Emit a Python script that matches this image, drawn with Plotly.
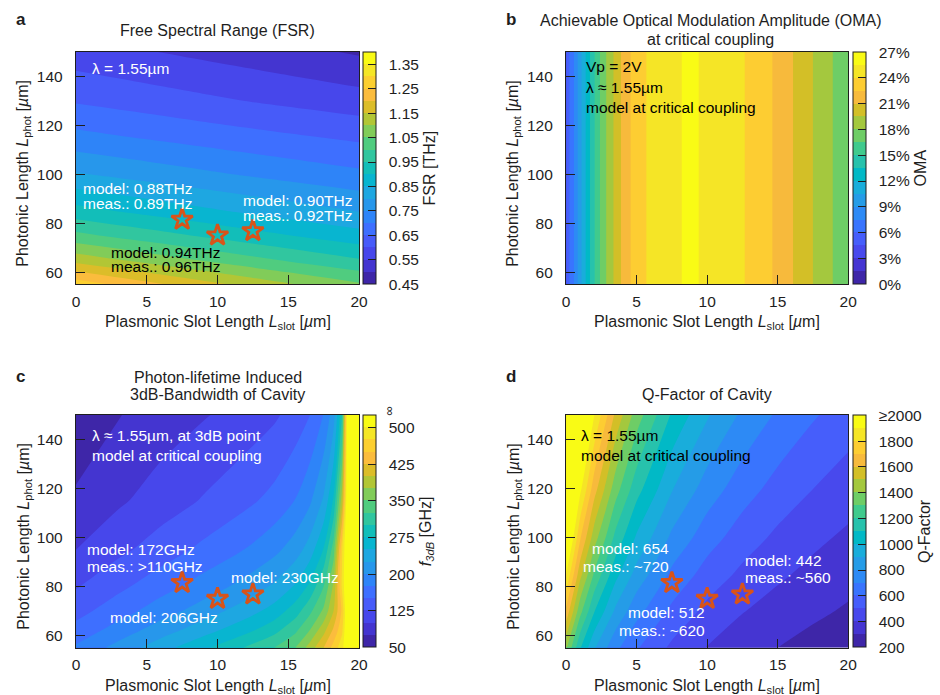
import plotly.graph_objects as go

W, H = 940, 695
FONT = "Liberation Sans, Arial, sans-serif"
TXT = "#1e1e1e"
FS = 15.5      # tick labels / in-plot text
FT = 16        # titles / axis titles
NB = "\u00a0\u00a0"

# ---------------- data ----------------
x_ticks = [0, 5, 10, 15, 20]
y_ticks = [60, 80, 100, 120, 140]

# measured devices (stars)
star_x = [7.5, 10, 12.5]
star_y = [81.5, 75, 76.8]

# panel a: FSR [THz]
fsr_x = [0, 5, 10, 15, 20]
fsr_y = [55, 65, 75, 85, 100, 115, 130, 150]
fsr_z = [
    [1.279, 1.215, 1.158, 1.105, 1.057],
    [1.131, 1.081, 1.035, 0.993, 0.954],
    [1.013, 0.973, 0.936, 0.901, 0.869],
    [0.918, 0.885, 0.854, 0.825, 0.798],
    [0.805, 0.779, 0.755, 0.732, 0.711],
    [0.716, 0.696, 0.676, 0.658, 0.641],
    [0.645, 0.626, 0.607, 0.589, 0.572],
    [0.572, 0.553, 0.534, 0.515, 0.494],
]
fsr_ticks = [0.45, 0.55, 0.65, 0.75, 0.85, 0.95, 1.05, 1.15, 1.25, 1.35]
fsr_ticktext = ["0.45", "0.55", "0.65", "0.75", "0.85", "0.95", "1.05", "1.15", "1.25", "1.35"]

# panel b: OMA [%] (depends on slot length only)
oma_x = [0, 0.5, 1, 1.5, 2, 2.5, 3, 3.5, 4, 4.5, 5, 6, 7, 8, 8.8, 10, 11, 12, 13, 14, 15, 16, 17, 18, 19, 20]
oma_vals = [5.0, 7.2, 10.0, 12.6, 14.9, 16.9, 18.5, 19.9, 21.3, 22.4, 23.1, 24.4, 25.0, 25.4, 25.8,
            25.2, 24.8, 24.4, 23.8, 23.0, 22.2, 21.1, 20.0, 19.0, 17.9, 17.2]
oma_y = [55, 150]
oma_ticks = [0, 3, 6, 9, 12, 15, 18, 21, 24, 27]
oma_ticktext = ["0%", "3%", "6%", "9%", "12%", "15%", "18%", "21%", "24%", "27%"]

# panel c: photon-lifetime 3dB bandwidth [GHz] (540 = beyond scale / infinite)
f3db_x = [0, 3, 6, 9, 12, 14, 15.5, 16.5, 17.5, 18.2, 18.8, 19.2, 20]
f3db_y = [55, 62, 70, 80, 95, 115, 150]
f3db_z = [
    [179, 209, 240, 270, 302, 325, 350, 385, 425, 460, 490, 540, 540],
    [159, 186, 213, 240, 268, 292, 320, 350, 392, 430, 470, 540, 540],
    [141, 164, 188, 212, 238, 260, 288, 318, 355, 400, 455, 540, 540],
    [123, 144, 165, 186, 209, 229, 253, 280, 325, 380, 480, 540, 540],
    [100, 119, 137, 156, 176, 193, 213, 236, 277, 338, 472, 540, 540],
    [78, 96, 112, 127, 144, 158, 176, 195, 229, 279, 390, 540, 540],
    [62, 74, 86, 98, 110, 121, 135, 149, 176, 214, 299, 540, 540],
]
f3db_ticks = [50, 125, 200, 275, 350, 425, 500]
f3db_ticktext = ["50", "125", "200", "275", "350", "425", "500"]

# panel d: Q-factor
q_x = [0, 1, 2, 3.5, 5, 7.5, 10, 12.5, 15, 17.5, 20]
q_y = [55, 70, 85, 100, 120, 150]
q_z = [
    [1415, 1109, 911, 725, 610, 480, 395, 338, 300, 265, 236],
    [1675, 1332, 1106, 882, 735, 578, 474, 405, 358, 320, 288],
    [1900, 1532, 1284, 1032, 863, 678, 559, 478, 418, 372, 335],
    [2098, 1712, 1446, 1173, 986, 780, 645, 550, 479, 424, 381],
    [2327, 1926, 1642, 1346, 1140, 908, 755, 646, 564, 501, 450],
    [2611, 2200, 1901, 1578, 1350, 1087, 910, 782, 686, 611, 551],
]
q_ticks = [200, 400, 600, 800, 1000, 1200, 1400, 1600, 1800, 2000]
q_ticktext = ["200", "400", "600", "800", "1000", "1200", "1400", "1600", "1800", "≥2000"]

# ---------------- colormap (parula) ----------------
PARULA = [
    (0.2422, 0.1504, 0.6603), (0.2504, 0.1650, 0.7076), (0.2578, 0.1818, 0.7511), (0.2647, 0.1978, 0.7952),
    (0.2706, 0.2147, 0.8364), (0.2751, 0.2342, 0.8710), (0.2783, 0.2559, 0.8991), (0.2803, 0.2782, 0.9221),
    (0.2813, 0.3006, 0.9414), (0.2810, 0.3228, 0.9579), (0.2795, 0.3447, 0.9717), (0.2760, 0.3667, 0.9829),
    (0.2699, 0.3892, 0.9906), (0.2602, 0.4123, 0.9952), (0.2440, 0.4358, 0.9988), (0.2206, 0.4603, 0.9973),
    (0.1963, 0.4847, 0.9892), (0.1834, 0.5074, 0.9798), (0.1786, 0.5289, 0.9682), (0.1764, 0.5499, 0.9520),
    (0.1687, 0.5703, 0.9359), (0.1540, 0.5902, 0.9218), (0.1460, 0.6091, 0.9079), (0.1380, 0.6276, 0.8973),
    (0.1248, 0.6459, 0.8883), (0.1113, 0.6635, 0.8763), (0.0952, 0.6798, 0.8598), (0.0689, 0.6948, 0.8394),
    (0.0297, 0.7082, 0.8163), (0.0036, 0.7203, 0.7917), (0.0067, 0.7312, 0.7660), (0.0433, 0.7411, 0.7394),
    (0.0964, 0.7500, 0.7120), (0.1408, 0.7584, 0.6842), (0.1717, 0.7670, 0.6554), (0.1938, 0.7758, 0.6251),
    (0.2161, 0.7843, 0.5923), (0.2470, 0.7918, 0.5567), (0.2906, 0.7973, 0.5188), (0.3406, 0.8008, 0.4789),
    (0.3909, 0.8029, 0.4354), (0.4456, 0.8024, 0.3909), (0.5044, 0.7993, 0.3480), (0.5616, 0.7942, 0.3045),
    (0.6174, 0.7876, 0.2612), (0.6720, 0.7793, 0.2227), (0.7242, 0.7698, 0.1910), (0.7738, 0.7598, 0.1646),
    (0.8203, 0.7498, 0.1535), (0.8634, 0.7406, 0.1596), (0.9035, 0.7330, 0.1774), (0.9393, 0.7288, 0.2100),
    (0.9728, 0.7298, 0.2394), (0.9956, 0.7434, 0.2371), (0.9970, 0.7659, 0.2199), (0.9952, 0.7893, 0.2028),
    (0.9892, 0.8136, 0.1885), (0.9786, 0.8386, 0.1766), (0.9676, 0.8639, 0.1643), (0.9610, 0.8890, 0.1537),
    (0.9597, 0.9135, 0.1423), (0.9628, 0.9373, 0.1265), (0.9691, 0.9606, 0.1064), (0.9769, 0.9839, 0.0805),
]


def parula_at(t):
    p = t * (len(PARULA) - 1)
    i = min(int(p), len(PARULA) - 2)
    f = p - i
    c = [PARULA[i][k] + (PARULA[i + 1][k] - PARULA[i][k]) * f for k in range(3)]
    return "rgb(%d,%d,%d)" % tuple(round(v * 255) for v in c)


def stepped(n):
    cols = [parula_at(k / (n - 1)) for k in range(n)]
    scale = []
    for k, c in enumerate(cols):
        scale.append([k / n, c])
        scale.append([(k + 1) / n, c])
    return scale


# ---------------- geometry ----------------
def px_x(x):
    return x / W


def px_y(y):
    return 1 - y / H


XA = [73 / W, 360 / W]
XB = [570 / W, 856 / W]
YT = [px_y(284.3), px_y(52)]
YB = [px_y(647.7), px_y(415)]

fig = go.Figure()


def add_panel(idx, x, y, z, start, end, size, nbands, cmin, cmax, ticks, ticktext, cbtitle, cb_x, cb_y):
    xa = "x" if idx == 1 else "x%d" % idx
    ya = "y" if idx == 1 else "y%d" % idx
    cs = stepped(nbands)
    fig.add_trace(go.Contour(
        x=x, y=y, z=z, xaxis=xa, yaxis=ya, colorscale=cs, showscale=False,
        autocontour=False,
        contours=dict(start=start, end=end, size=size, coloring="fill", showlines=False),
        line=dict(width=0, smoothing=0.8), hoverinfo="skip"))
    fig.add_trace(go.Scatter(
        x=[-50], y=[0], xaxis=xa, yaxis=ya, mode="markers", showlegend=False, hoverinfo="skip",
        marker=dict(size=1, color=[cmin], colorscale=cs, cmin=cmin, cmax=cmax, showscale=True,
                    colorbar=dict(
                        x=cb_x, xanchor="left", y=cb_y, yanchor="middle",
                        len=(284.3 - 52) / H, lenmode="fraction", thickness=13, thicknessmode="pixels",
                        xpad=0, ypad=0, outlinewidth=1, outlinecolor=TXT,
                        tickmode="array", tickvals=ticks, ticktext=[NB + t for t in ticktext],
                        ticks="inside", ticklen=8, tickwidth=1, tickcolor=TXT,
                        tickfont=dict(family=FONT, size=FS, color=TXT),
                        title=dict(text=cbtitle, side="right", font=dict(family=FONT, size=FT, color=TXT)),
                    ))))


add_panel(1, fsr_x, fsr_y, fsr_z, 0.50, 1.35, 0.05, 19, 0.45, 1.40,
          fsr_ticks, fsr_ticktext, "FSR [THz]", 364 / W, px_y(168.15))
add_panel(2, oma_x, oma_y, [oma_vals, oma_vals], 1.5, 25.5, 1.5, 18, 0, 27,
          oma_ticks, oma_ticktext, "OMA", 861 / W, px_y(168.15))
add_panel(3, f3db_x, f3db_y, f3db_z, 75, 500, 25, 19, 50, 525,
          f3db_ticks, f3db_ticktext, "<i>f</i><sub><i>3dB</i></sub> [GHz]", 364 / W, px_y(531.35))
add_panel(4, q_x, q_y, q_z, 300, 1900, 100, 18, 200, 2000,
          q_ticks, q_ticktext, "Q-Factor", 861 / W, px_y(531.35))

for i in (1, 3, 4):
    xa = "x" if i == 1 else "x%d" % i
    ya = "y" if i == 1 else "y%d" % i
    fig.add_trace(go.Scatter(
        x=star_x, y=star_y, xaxis=xa, yaxis=ya, mode="markers", showlegend=False, hoverinfo="skip",
        marker=dict(symbol="star-open", size=16, color="#D95319", line=dict(width=2.8, color="#D95319"))))


def axis(dom, anchor, rng, tv, standoff):
    return dict(domain=dom, anchor=anchor, range=rng, tickmode="array", tickvals=tv,
                ticks="inside", ticklen=9, tickwidth=1.3, tickcolor=TXT,
                showline=True, linecolor=TXT, linewidth=1.3, mirror=True,
                showgrid=False, zeroline=False, ticklabelstandoff=standoff,
                tickfont=dict(family=FONT, size=FS, color=TXT))


fig.update_layout(
    width=W, height=H, margin=dict(l=0, r=0, t=0, b=0),
    paper_bgcolor="white", plot_bgcolor="white", showlegend=False,
    font=dict(family=FONT, size=FS, color=TXT),
    xaxis=axis(XA, "y", [0, 20], x_ticks, 3), yaxis=axis(YT, "x", [55, 150], y_ticks, 9),
    xaxis2=axis(XB, "y2", [0, 20], x_ticks, 3), yaxis2=axis(YT, "x2", [55, 150], y_ticks, 9),
    xaxis3=axis(XA, "y3", [0, 20], x_ticks, 3), yaxis3=axis(YB, "x3", [55, 150], y_ticks, 9),
    xaxis4=axis(XB, "y4", [0, 20], x_ticks, 3), yaxis4=axis(YB, "x4", [55, 150], y_ticks, 9),
)

anns = []


def ann(text, x, y, color=TXT, xanchor="left", size=FS, bold=False, angle=0):
    t = "<b>%s</b>" % text if bold else text
    anns.append(dict(text=t, x=px_x(x), y=px_y(y), xref="paper", yref="paper",
                     xanchor=xanchor, yanchor="middle", showarrow=False, textangle=angle,
                     font=dict(family=FONT, size=size, color=color)))


# panel letters
ann("a", 10, 19, size=17, bold=True)
ann("b", 507, 19, size=17, bold=True)
ann("c", 10, 376, size=17, bold=True)
ann("d", 507, 376, size=17, bold=True)

# titles
ann("Free Spectral Range (FSR)", 216.5, 31, xanchor="center", size=FT)
ann("Achievable Optical Modulation Amplitude (OMA)", 716.5, 20, xanchor="center", size=FT)
ann("at critical coupling", 716.5, 40, xanchor="center", size=FT)
ann("Photon-lifetime Induced", 216.5, 377, xanchor="center", size=FT)
ann("3dB-Bandwidth of Cavity", 216.5, 394, xanchor="center", size=FT)
ann("Q-Factor of Cavity", 713, 394, xanchor="center", size=FT)

# infinity mark at the top of the bandwidth colour bar
ann("∞", 392, 411, xanchor="center", size=13, angle=90)

# axis titles
xt = "Plasmonic Slot Length <i>L</i><sub>slot</sub> [<i>µ</i>m]"
yt = "Photonic Length <i>L</i><sub>phot</sub> [<i>µ</i>m]"
ann(xt, 216.5, 323, xanchor="center", size=FT)
ann(xt, 713, 323, xanchor="center", size=FT)
ann(xt, 216.5, 686.5, xanchor="center", size=FT)
ann(xt, 713, 686.5, xanchor="center", size=FT)
for xx, yy in [(20, 173), (517, 173), (20, 536), (517, 536)]:
    anns.append(dict(text=yt, x=px_x(xx), y=px_y(yy), xref="paper", yref="paper",
                     xanchor="center", yanchor="middle", showarrow=False, textangle=-90,
                     font=dict(family=FONT, size=FT, color=TXT)))

WHITE = "white"
# panel a
ann("λ = 1.55µm", 86.7, 68, color=WHITE)
ann("model: 0.88THz", 78.3, 188.5, color=WHITE)
ann("meas.: 0.89THz", 78.3, 203, color=WHITE)
ann("model: 0.90THz", 240.7, 200.5, color=WHITE)
ann("meas.: 0.92THz", 240.7, 215, color=WHITE)
ann("model: 0.94THz", 106.7, 252, color="black")
ann("meas.: 0.96THz", 106.7, 266.5, color="black")
# panel b
ann("Vp = 2V", 588.3, 66.7, color="black")
ann("λ ≈ 1.55µm", 588.3, 87.3, color="black")
ann("model at critical coupling", 588.3, 107.3, color="black")
# panel c
ann("λ ≈ 1.55µm, at 3dB point", 86.7, 435, color=WHITE)
ann("model at critical coupling", 86.7, 455, color=WHITE)
ann("model: 172GHz", 81.7, 549, color=WHITE)
ann("meas.: >110GHz", 81.7, 566, color=WHITE)
ann("model: 230GHz", 228.3, 577.7, color=WHITE)
ann("model: 206GHz", 105.3, 617.7, color=WHITE)
# panel d
ann("λ = 1.55µm", 583.3, 435, color="black")
ann("model at critical coupling", 583.3, 455, color="black")
ann("model: 654", 676.7, 548.3, color=WHITE, xanchor="right")
ann("meas.: ~720", 676.7, 566, color=WHITE, xanchor="right")
ann("model: 442", 749.3, 560, color=WHITE)
ann("meas.: ~560", 749.3, 577, color=WHITE)
ann("model: 512", 712.7, 612.7, color=WHITE, xanchor="right")
ann("meas.: ~620", 712.7, 630, color=WHITE, xanchor="right")

fig.update_layout(annotations=anns, hovermode=False)
fig.write_html("out.html")
